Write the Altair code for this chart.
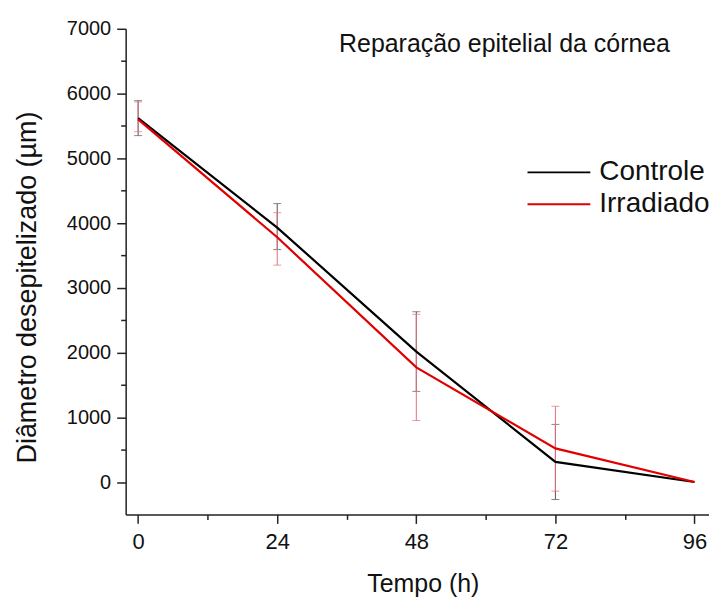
import altair as alt
import pandas as pd

tempo = [0, 24, 48, 72, 96]
controle = [5620, 3930, 2015, 310, 0]
controle_lo = [5350, 3590, 1400, -270, 0]
controle_hi = [5890, 4300, 2630, 890, 0]
irradiado = [5600, 3780, 1770, 520, 0]
irradiado_lo = [5410, 3350, 950, -140, 0]
irradiado_hi = [5870, 4160, 2590, 1170, 0]
series = ["Controle", "Irradiado"]
line_colors = ["#000000", "#e00000"]
bar_colors = ["#555555", "#e0707c"]
title_text = "Reparação epitelial da córnea"
x_title = "Tempo (h)"
y_title = "Diâmetro desepitelizado (µm)"
x_ticks = [0, 12, 24, 36, 48, 60, 72, 84, 96]
y_ticks = list(range(0, 7001, 500))

rows = []
for name, vals, lo, hi in [("Controle", controle, controle_lo, controle_hi),
                           ("Irradiado", irradiado, irradiado_lo, irradiado_hi)]:
    for t, v, l, h in zip(tempo, vals, lo, hi):
        rows.append(dict(tempo=t, serie=name, valor=v, lo=l, hi=h))
df = pd.DataFrame(rows)
bars = df[df.hi != df.lo]

FONT = "Liberation Sans"
W, H = 585, 487
x_scale = alt.Scale(domain=[-2.15, 98.5], nice=False, zero=False)
y_scale = alt.Scale(domain=[-500, 7000], nice=False, zero=False)

x_axis = alt.Axis(
    values=x_ticks,
    labelExpr="datum.value % 24 === 0 ? datum.label : ''",
    tickSize={"condition": {"test": "datum.value % 24 === 0", "value": 9}, "value": 5},
    labelPadding=8,
    labelFontSize=22,
    title=x_title,
    titleFontSize=25,
    titleFontWeight="normal",
    titleX=298, titleY=69, titleAlign="center", titleBaseline="middle",
    grid=False,
)
y_axis = alt.Axis(
    values=y_ticks,
    format="d",
    labelExpr="datum.value % 1000 === 0 ? datum.label : ''",
    tickSize={"condition": {"test": "datum.value % 1000 === 0", "value": 9}, "value": 5},
    labelPadding=6,
    labelFontSize=20,
    title=y_title,
    titleFontSize=27,
    titleFontWeight="normal",
    titleAngle=270,
    titleX=-98, titleY=259, titleAlign="center", titleBaseline="middle",
    grid=False,
)

X = alt.X("tempo:Q", scale=x_scale, axis=x_axis)

lines = alt.Chart(df).mark_line(strokeWidth=2.2).encode(
    x=X,
    y=alt.Y("valor:Q", scale=y_scale, axis=y_axis),
    color=alt.Color(
        "serie:N",
        scale=alt.Scale(domain=series, range=line_colors),
        legend=alt.Legend(
            orient="none", legendX=435, legendY=128, title=None,
            symbolType="M-3.2,0L1,0", symbolSize=900, symbolStrokeWidth=2,
            labelFontSize=28, labelFont=FONT, labelOffset=8, rowPadding=2,
            labelColor="#111111",
        ),
    ),
    order=alt.Order("tempo:Q"),
)

layers = []
for name, col in zip(series, bar_colors):
    sub = bars[bars.serie == name]
    rule = alt.Chart(sub).mark_rule(strokeWidth=1, color=col).encode(
        x=X,
        y=alt.Y("lo:Q", scale=y_scale, axis=y_axis),
        y2="hi:Q",
    )
    cap_lo = alt.Chart(sub).mark_tick(orient="horizontal", size=8, thickness=1, color=col).encode(
        x=X, y=alt.Y("lo:Q", scale=y_scale, axis=y_axis))
    cap_hi = alt.Chart(sub).mark_tick(orient="horizontal", size=8, thickness=1, color=col).encode(
        x=X, y=alt.Y("hi:Q", scale=y_scale, axis=y_axis))
    layers += [rule, cap_lo, cap_hi]

chart = alt.layer(*layers, lines).properties(
    width=W, height=H,
    autosize=alt.AutoSizeParams(type="none"),
    padding={"left": 118, "top": 20, "right": 0, "bottom": 85},
    title=alt.TitleParams(
        text=title_text, anchor="start", frame="group", orient="top",
        dx=214, dy=58, offset=0, baseline="alphabetic",
        fontSize=25, font=FONT, fontWeight="normal", color="#111111",
    ),
).configure_view(stroke=None).configure_axis(
    labelFont=FONT, titleFont=FONT, labelColor="#111111", titleColor="#111111",
    domainColor="#222222", domainWidth=1.5, tickColor="#222222", tickWidth=1.5,
)

chart.save("out.html", embed_options={"renderer": "svg", "actions": False})
